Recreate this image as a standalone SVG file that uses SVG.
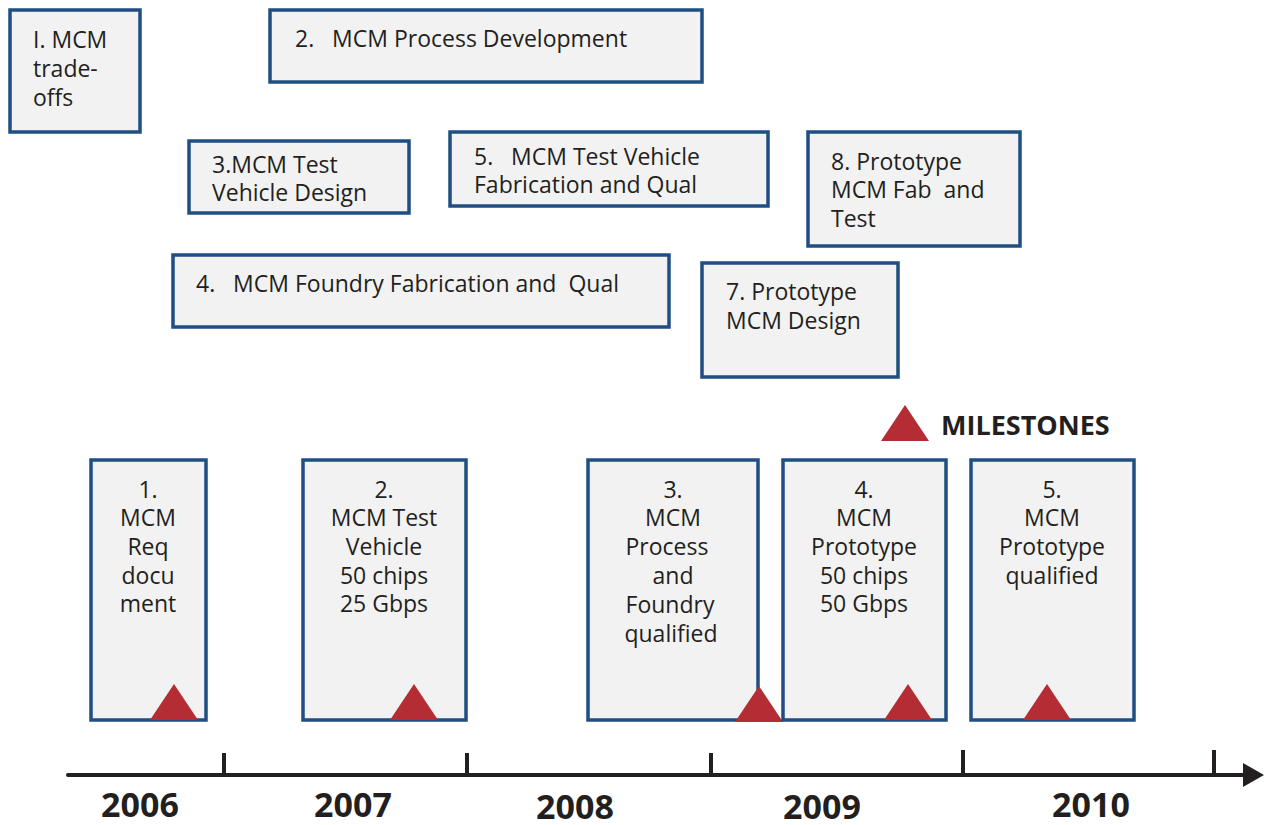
<svg xmlns="http://www.w3.org/2000/svg" width="1264" height="825" viewBox="0 0 1264 825">
<style>
.box{fill:#f2f2f2;stroke:#1f4e82;stroke-width:3.5}
.t{font-family:"Open Sans","Noto Sans","Liberation Sans",sans-serif;font-size:23px;fill:#231f20}
.c{text-anchor:middle}
.yr{font-family:"Open Sans","Noto Sans","Liberation Sans",sans-serif;font-size:34px;font-weight:bold;fill:#231f20;text-anchor:middle}
.tri{fill:#b52d34}
.ax{stroke:#231f20;stroke-width:4;fill:none}
</style>
<defs>
<polygon id="ms" class="tri" points="0,-36 24,0 -24,0"/>
</defs>
<rect width="1264" height="825" fill="#fff"/>
<g id="task1"><rect class="box" x="10" y="10" width="130" height="122"/>
<text class="t" x="33" y="48">I. MCM</text><text class="t" x="33" y="77">trade-</text><text class="t" x="33" y="106">offs</text></g>
<g id="task2"><rect class="box" x="270" y="10" width="432" height="72"/>
<text class="t" x="295" y="47" xml:space="preserve">2.   MCM Process Development</text></g>
<g id="task3"><rect class="box" x="189" y="141" width="220" height="72"/>
<text class="t" x="212" y="173">3.MCM Test</text><text class="t" x="212" y="201">Vehicle Design</text></g>
<g id="task5"><rect class="box" x="450" y="132" width="318" height="74"/>
<text class="t" x="474" y="165" xml:space="preserve">5.   MCM Test Vehicle</text><text class="t" x="474" y="193">Fabrication and Qual</text></g>
<g id="task8"><rect class="box" x="808" y="132" width="212" height="114"/>
<text class="t" x="831" y="170">8. Prototype</text><text class="t" x="831" y="198" xml:space="preserve">MCM Fab  and</text><text class="t" x="831" y="227">Test</text></g>
<g id="task4"><rect class="box" x="173" y="255" width="496" height="72"/>
<text class="t" x="196" y="292" xml:space="preserve">4.   MCM Foundry Fabrication and  Qual</text></g>
<g id="task7"><rect class="box" x="702" y="263" width="196" height="114"/>
<text class="t" x="726" y="300">7. Prototype</text><text class="t" x="726" y="329">MCM Design</text></g>
<g id="legend"><use href="#ms" x="905" y="441"/>
<text x="941" y="435" style="font-family:'Open Sans','Noto Sans','Liberation Sans',sans-serif;font-size:27px;font-weight:bold;fill:#231f20">MILESTONES</text></g>
<g id="m1"><rect class="box" x="91" y="460" width="115" height="260"/>
<text class="t c"><tspan x="148" y="498">1.</tspan><tspan x="148" y="526">MCM</tspan><tspan x="148" y="555">Req</tspan><tspan x="148" y="584">docu</tspan><tspan x="148" y="612">ment</tspan></text>
<use href="#ms" x="174" y="720"/></g>
<g id="m2"><rect class="box" x="303" y="460" width="163" height="260"/>
<text class="t c"><tspan x="384" y="498">2.</tspan><tspan x="384" y="526">MCM Test</tspan><tspan x="384" y="555">Vehicle</tspan><tspan x="384" y="584">50 chips</tspan><tspan x="384" y="612">25 Gbps</tspan></text>
<use href="#ms" x="414" y="720"/></g>
<g id="m3"><rect class="box" x="588" y="460" width="170" height="260"/>
<text class="t c"><tspan x="673" y="498">3.</tspan><tspan x="673" y="526">MCM</tspan><tspan x="667" y="555">Process</tspan><tspan x="673" y="584">and</tspan><tspan x="670" y="613">Foundry</tspan><tspan x="671" y="642">qualified</tspan></text>
<use href="#ms" x="759" y="722"/></g>
<g id="m4"><rect class="box" x="783" y="460" width="163" height="260"/>
<text class="t c"><tspan x="864" y="498">4.</tspan><tspan x="864" y="526">MCM</tspan><tspan x="864" y="555">Prototype</tspan><tspan x="864" y="584">50 chips</tspan><tspan x="864" y="612">50 Gbps</tspan></text>
<use href="#ms" x="908" y="720"/></g>
<g id="m5"><rect class="box" x="971" y="460" width="163" height="260"/>
<text class="t c"><tspan x="1052" y="498">5.</tspan><tspan x="1052" y="526">MCM</tspan><tspan x="1052" y="555">Prototype</tspan><tspan x="1052" y="584">qualified</tspan></text>
<use href="#ms" x="1047" y="720"/></g>
<g id="axis">
<line class="ax" x1="68" y1="775" x2="1246" y2="775" stroke-linecap="round"/>
<polygon points="1243,763 1264,775 1243,787" fill="#231f20"/>
<line class="ax" x1="224" y1="753" x2="224" y2="775"/>
<line class="ax" x1="467" y1="753" x2="467" y2="775"/>
<line class="ax" x1="711" y1="753" x2="711" y2="775"/>
<line class="ax" x1="963" y1="750" x2="963" y2="775"/>
<line class="ax" x1="1214" y1="750" x2="1214" y2="775"/>
<text class="yr" x="140" y="817">2006</text>
<text class="yr" x="353" y="817">2007</text>
<text class="yr" x="575" y="819">2008</text>
<text class="yr" x="822" y="819">2009</text>
<text class="yr" x="1091" y="817">2010</text>
</g>
</svg>
